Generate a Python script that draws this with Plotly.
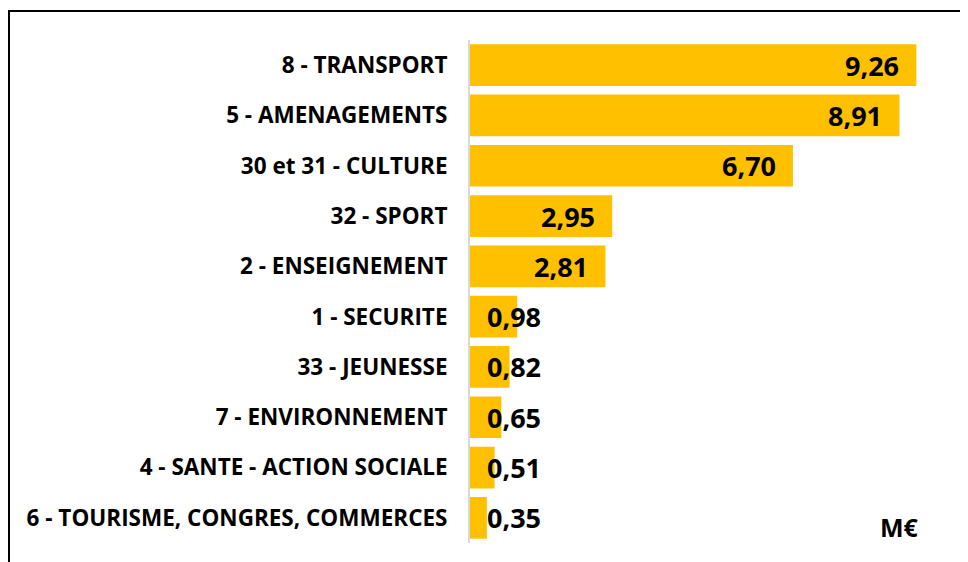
import plotly.graph_objects as go

categories = [
    "8 - TRANSPORT",
    "5 - AMENAGEMENTS",
    "30 et 31 - CULTURE",
    "32 - SPORT",
    "2 - ENSEIGNEMENT",
    "1 - SECURITE",
    "33 - JEUNESSE",
    "7 - ENVIRONNEMENT",
    "4 - SANTE - ACTION SOCIALE",
    "6 - TOURISME, CONGRES, COMMERCES",
]
values = [9.26, 8.91, 6.70, 2.95, 2.81, 0.98, 0.82, 0.65, 0.51, 0.35]
unit_label = "M€"

BAR = "#FFC000"
FONT = "Open Sans"

fig = go.Figure()
fig.add_trace(go.Bar(
    x=values, y=categories, orientation="h",
    marker=dict(color=BAR, line=dict(width=0)),
    hoverinfo="x+y",
))

annotations = []
for c, v in zip(categories, values):
    txt = f"{v:.2f}".replace(".", ",")
    if v >= 2:
        annotations.append(dict(x=v, y=c, xref="x", yref="y", text=f"<b>{txt}</b>",
                                showarrow=False, xanchor="right", xshift=-15,
                                font=dict(family=FONT, size=27, color="#000000")))
    else:
        annotations.append(dict(x=0, y=c, xref="x", yref="y", text=f"<b>{txt}</b>",
                                showarrow=False, xanchor="left", xshift=15,
                                font=dict(family=FONT, size=27, color="#000000")))

# page body has an 8px margin: figure pixel = page pixel - 8
OFF = 8
W, H = 960, 554
L, R, T, B = 462, 16, 32, 19
pw, ph = W - L - R, H - T - B
px = lambda p: (p - OFF - L) / pw
py = lambda p: (H - B - (p - OFF)) / ph

annotations.append(dict(x=px(899), y=py(527), xref="paper", yref="paper", text="<b>" + unit_label + "</b>",
                        showarrow=False, xanchor="center", yanchor="middle",
                        font=dict(family=FONT, size=25, color="#000000")))

shapes = [
    dict(type="line", xref="paper", yref="paper", x0=px(9), x1=px(9), y0=py(10), y1=py(575),
         line=dict(color="#000000", width=2)),
    dict(type="line", xref="paper", yref="paper", x0=px(8), x1=px(990), y0=py(11), y1=py(11),
         line=dict(color="#000000", width=2)),
]

fig.update_layout(
    width=W, height=H,
    margin=dict(l=L, r=R, t=T, b=B),
    paper_bgcolor="white", plot_bgcolor="white",
    bargap=0.17,
    showlegend=False,
    annotations=annotations,
    shapes=shapes,
    xaxis=dict(range=[0, 10], visible=False, fixedrange=True),
    yaxis=dict(autorange="reversed", showline=True, linecolor="#D9D9D9", linewidth=2,
               ticks="", showgrid=False, zeroline=False, ticklabelstandoff=16,
               tickfont=dict(family=FONT, size=22.5, color="#000000")),
    font=dict(family=FONT, color="#000000"),
)
fig.update_yaxes(tickprefix="<b>", ticksuffix="</b>")
fig.write_html("out.html")
